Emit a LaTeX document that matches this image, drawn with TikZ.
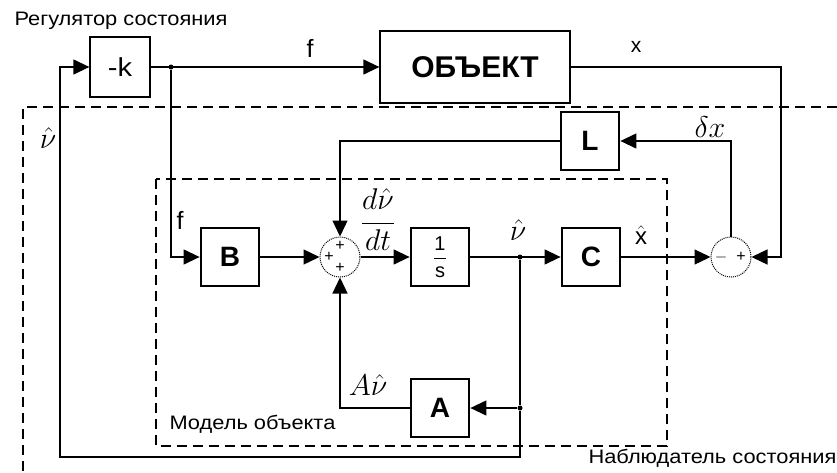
\RequirePackage{fix-cm}
\documentclass[tikz,border=0pt]{standalone}
\usepackage{fontspec}
\setmainfont{Liberation Sans}
\newfontfamily\capfont[FakeStretch=1.12]{Liberation Sans}
\usetikzlibrary{arrows.meta, positioning}

\begin{document}
\begin{tikzpicture}[
    x=1pt, y=-1pt,
    thinbox/.style={rectangle, draw, line width=1.3pt, inner sep=0pt},
    block/.style={rectangle, draw, line width=2.8pt, minimum width=58pt, minimum height=58pt,
                  inner sep=0pt, font=\fontsize{28}{30}\selectfont\bfseries},
    summer/.style={circle, draw, densely dotted, line width=1pt, minimum size=40pt, inner sep=0pt},
    sign/.style={inner sep=0pt, font=\fontsize{16}{17}\selectfont},
    junction/.style={circle, fill, inner sep=0pt, minimum size=5pt},
    arrow/.style={-{Triangle[length=16pt, width=15pt]}, line width=1.3pt},
    wire/.style={line width=1.3pt},
    frame/.style={dash pattern=on 10pt off 6pt, line width=1.3pt},
    lbl/.style={font=\capfont\fontsize{19.5}{22}\selectfont},
    sig/.style={font=\fontsize{21}{23}\selectfont},
    mlbl/.style={font=\fontsize{30}{32}\selectfont},
]
\useasboundingbox (0,0) rectangle (837,472);

% regulator and plant
\node[thinbox, minimum width=60pt, minimum height=60pt, font=\capfont\fontsize{26}{28}\selectfont] (gain) at (120,67) {-k};
\node[thinbox, minimum width=190pt, minimum height=72pt, font=\fontsize{30}{32}\selectfont\bfseries] (plant) at (475,67) {ОБЪЕКТ};

% observer blocks
\node[block] (L) at (590,141) {L};
\node[block] (B) at (230,257) {B};
\node[summer] (sum) at (340,257) {};
\node[block, font=\fontsize{20}{22}\selectfont] (integ) at (440,257) {${\displaystyle\frac{\textnormal{1}}{\textnormal{s}}}$};
\node[block] (C) at (591,257) {C};
\node[summer] (diff) at (731,257) {};
\node[block] (A) at (440,408) {A};

% signs
\node[sign] (sum-t) at (340,246) {+};
\node[sign] (sum-l) at (329,257) {+};
\node[sign] (sum-b) at (340,268) {+};
\node[sign] (diff-l) at (721,257) {$-$};
\node[sign] (diff-r) at (741,257) {+};

% branch points
\node[junction] (jf) at (171,67) {};
\node[junction] (jv) at (520,257) {};
\node[junction] (ja) at (520,408) {};
\coordinate (xturn) at (781,67);
\coordinate (loopr) at (520,457);
\coordinate (loopl) at (60,67);

% connectors
\draw[arrow] (gain) -- (plant);
\draw[arrow] (jf) |- (B);
\draw[arrow] (plant) -- (xturn) |- (diff);
\draw[arrow] (B) -- (sum);
\draw[arrow] (sum) -- (integ);
\draw[arrow] (integ) -- (C);
\draw[arrow] (C) -- (diff);
\draw[arrow] (diff) |- (L);
\draw[arrow] (L) -| (sum);
\draw[wire] (jv) -- (ja);
\draw[arrow] (ja) -- (A);
\draw[arrow] (A) -| (sum);
\draw[arrow] (ja) -- (loopr) -| (loopl) -- (gain);

% frames
\draw[frame] (837,107) -- (23,107) -- (23,472);
\draw[frame] (156,179) rectangle (667,446);

% signal labels
\node[sig, font=\fontsize{25}{27}\selectfont] (f-top) at (310,48) {f};
\node[sig, font=\fontsize{25}{27}\selectfont] (f-b) at (180,220) {f};
\node[sig] (x-top) at (636,47) {x};
\node[sig, font=\fontsize{24}{26}\selectfont] (x-hat) at (641,235) {$\hat{\textnormal{x}}$};
\node[mlbl] (v-left) at (48,138) {$\hat{\nu}$};
\node[mlbl] (v-mid) at (518,230) {$\hat{\nu}$};
\node[mlbl] (dx) at (710,127) {$\delta x$};
\node[mlbl] (av) at (368,385) {$A\hat{\nu}$};
\node[mlbl] (dvdt) at (378,220) {${\displaystyle\frac{d\hat{\nu}}{dt}}$};

% captions
\node[lbl, anchor=west] (cap-reg) at (11,21) {Регулятор состояния};
\node[lbl, anchor=west] (cap-mod) at (166,424) {Модель объекта};
\node[lbl, anchor=west] (cap-obs) at (585,458) {Наблюдатель состояния};

\end{tikzpicture}
\end{document}
